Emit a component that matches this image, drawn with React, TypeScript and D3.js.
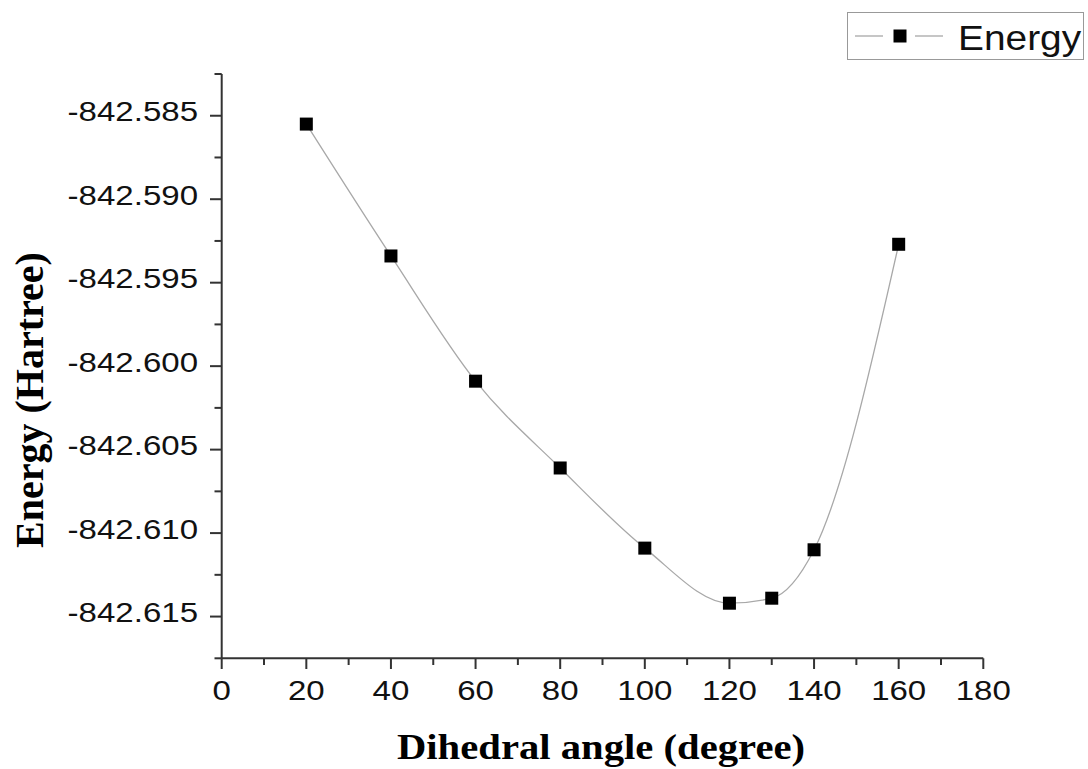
import React from "react";
import * as d3 from "d3";

const angles = [20, 40, 60, 80, 100, 120, 130, 140, 160];
const energies = [-842.5855, -842.5934, -842.6009, -842.6061, -842.6109, -842.6142, -842.6139, -842.611, -842.5927];
const xMajorTicks = [0, 20, 40, 60, 80, 100, 120, 140, 160, 180];
const xMinorTicks = [10, 30, 50, 70, 90, 110, 130, 150, 170];
const yMajorTicks = [-842.615, -842.61, -842.605, -842.6, -842.595, -842.59, -842.585];
const yMinorTicks = [-842.6175, -842.6125, -842.6075, -842.6025, -842.5975, -842.5925, -842.5875, -842.5825];
const xDomain = [0, 180];
const yDomain = [-842.6175, -842.5825];
const seriesName = "Energy";
const xTitle = "Dihedral angle (degree)";
const yTitle = "Energy (Hartree)";

export default function App() {
  const x = d3.scaleLinear().domain(xDomain).range([221.7, 983.3]);
  const y = d3.scaleLinear().domain(yDomain).range([658.3, 74]);
  const pts = angles.map((a, i) => [x(a), y(energies[i])] as [number, number]);
  const line = d3.line().curve(d3.curveMonotoneX)(pts) || "";
  const axisColor = "#333";
  const sx = 1.18;
  return (
    <svg width={1088} height={769} style={{ position: "absolute", left: 0, top: 0, background: "#fff" }}>
      <rect width={1088} height={769} fill="#fff" />
      {/* axes */}
      <line x1={x(0)} x2={x(180)} y1={y(yDomain[0])} y2={y(yDomain[0])} stroke={axisColor} strokeWidth={2} />
      <line x1={x(0)} x2={x(0)} y1={y(yDomain[0])} y2={y(yDomain[1])} stroke={axisColor} strokeWidth={2} />
      {xMajorTicks.map((t) => (
        <g key={"xm" + t}>
          <line x1={x(t)} x2={x(t)} y1={658.3} y2={669} stroke={axisColor} strokeWidth={2} />
          <text
            transform={`translate(${x(t)},700) scale(${sx},1)`}
            textAnchor="middle"
            fontFamily="Liberation Sans, Arial, sans-serif"
            fontSize={28}
            fill="#111"
          >
            {t}
          </text>
        </g>
      ))}
      {xMinorTicks.map((t) => (
        <line key={"xn" + t} x1={x(t)} x2={x(t)} y1={658.3} y2={665} stroke={axisColor} strokeWidth={2} />
      ))}
      {yMajorTicks.map((t) => (
        <g key={"ym" + t}>
          <line x1={210} x2={x(0)} y1={y(t)} y2={y(t)} stroke={axisColor} strokeWidth={2} />
          <text
            transform={`translate(198,${y(t) + 5.5}) scale(${sx},1)`}
            textAnchor="end"
            fontFamily="Liberation Sans, Arial, sans-serif"
            fontSize={28}
            fill="#111"
          >
            {t.toFixed(3)}
          </text>
        </g>
      ))}
      {yMinorTicks.map((t) => (
        <line key={"yn" + t} x1={214.5} x2={x(0)} y1={y(t)} y2={y(t)} stroke={axisColor} strokeWidth={2} />
      ))}
      {/* series */}
      <path d={line} fill="none" stroke="#a8a8a8" strokeWidth={1.3} />
      {pts.map((p, i) => (
        <rect key={i} x={p[0] - 6.5} y={p[1] - 6.5} width={13} height={13} fill="#000" />
      ))}
      {/* axis titles */}
      <text
        transform={`translate(601,759) scale(1.13,1)`}
        textAnchor="middle"
        fontFamily="Liberation Serif, Times New Roman, serif"
        fontWeight="bold"
        fontSize={36}
        fill="#000"
      >
        {xTitle}
      </text>
      <text
        transform={`translate(43,400) rotate(-90)`}
        textAnchor="middle"
        fontFamily="Liberation Serif, Times New Roman, serif"
        fontWeight="bold"
        fontSize={40}
        fill="#000"
      >
        {yTitle}
      </text>
      {/* legend */}
      <rect x={847.5} y={12.5} width={236} height={47} fill="#fff" stroke="#999" strokeWidth={1} />
      <line x1={855} x2={883} y1={36} y2={36} stroke="#a8a8a8" strokeWidth={1.3} />
      <line x1={915} x2={943} y1={36} y2={36} stroke="#a8a8a8" strokeWidth={1.3} />
      <rect x={893.5} y={29.5} width={13} height={13} fill="#000" />
      <text
        transform={`translate(958,50) scale(1.08,1)`}
        fontFamily="Liberation Sans, Arial, sans-serif"
        fontSize={36}
        fill="#111"
      >
        {seriesName}
      </text>
    </svg>
  );
}
